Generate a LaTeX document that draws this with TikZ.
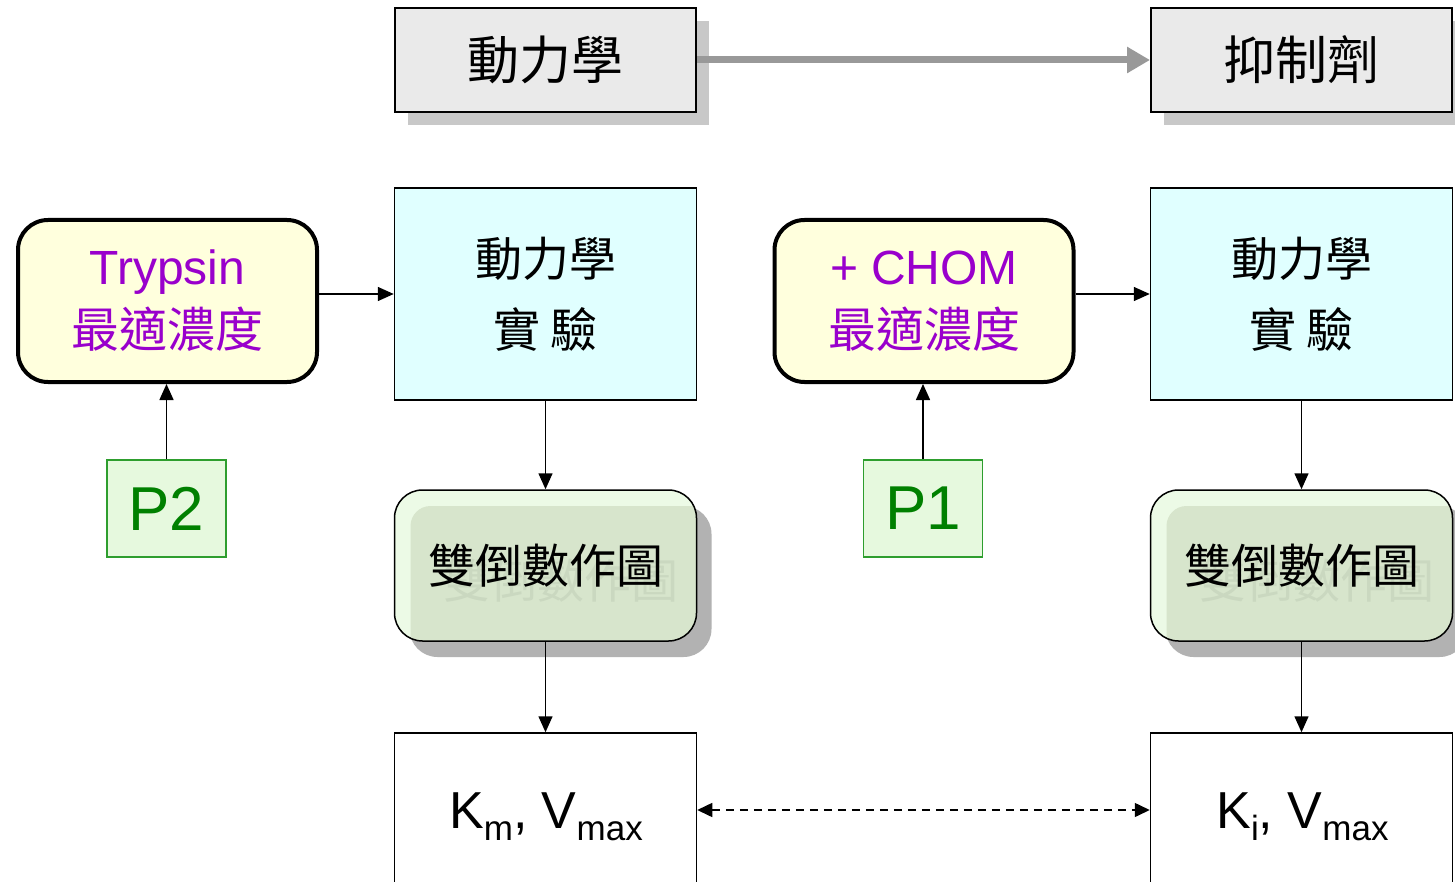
\documentclass[tikz,border=0pt]{standalone}
\usepackage{fontspec}
\setmainfont{Liberation Sans}
\newfontfamily\cjk{Noto Sans CJK TC}
\usetikzlibrary{arrows.meta,shadows}
\definecolor{topfill}{HTML}{EAEAEA}
\definecolor{topshadow}{HTML}{C8C8C8}
\definecolor{arrowgray}{HTML}{999999}
\definecolor{cyanfill}{HTML}{E0FFFF}
\definecolor{yelfill}{HTML}{FFFFDD}
\definecolor{purp}{HTML}{9900CC}
\definecolor{pfill}{HTML}{E6F9DE}
\definecolor{pborder}{HTML}{2E9E2E}
\definecolor{ptext}{HTML}{008000}
\definecolor{goutfill}{HTML}{ECFAE6}
\definecolor{ginfill}{HTML}{D7E5CC}
\definecolor{gshadow}{HTML}{B2B2B2}
\definecolor{ghost}{HTML}{CAD8C0}
\newcommand\lowsub[1]{\raisebox{-6pt}{\fontsize{17.5}{20}\selectfont #1}}
\begin{document}
\begin{tikzpicture}[x=0.5pt,y=-0.5pt,
  topbox/.style={draw, line width=1pt, fill=topfill, minimum width=150.5pt, minimum height=52pt,
    inner sep=0pt, font=\cjk\fontsize{26}{30}\selectfont,
    drop shadow={shadow xshift=6.5pt, shadow yshift=-6.5pt, opacity=1, fill=topshadow}},
  cyanbox/.style={draw, line width=0.75pt, fill=cyanfill, minimum width=151pt, minimum height=106pt,
    inner sep=0pt, align=center, font=\cjk\fontsize{23.5}{35.5}\selectfont},
  yelbox/.style={draw, line width=2pt, fill=yelfill, rounded corners=15pt, minimum width=149.5pt,
    minimum height=81pt, inner sep=0pt, align=center, text=purp, font=\fontsize{24}{31.5}\selectfont},
  pbox/.style={draw=pborder, line width=0.75pt, fill=pfill, minimum width=59.5pt, minimum height=48.5pt,
    inner sep=0pt, text=ptext, font=\fontsize{31}{36}\selectfont},
  gbox/.style={draw, line width=0.75pt, fill=goutfill, rounded corners=14pt, minimum width=151pt,
    minimum height=75.5pt, inner sep=0pt, font=\cjk\fontsize{23.5}{28}\selectfont,
    drop shadow={shadow xshift=7.5pt, shadow yshift=-8pt, opacity=1, fill=gshadow},
    path picture={
      \fill[ginfill, rounded corners=10pt] ([shift={(8pt,-8pt)}]path picture bounding box.north west)
        rectangle ([shift={(20pt,-20pt)}]path picture bounding box.south east);
      \node[text=ghost, font=\cjk\fontsize{23.5}{28}\selectfont]
        at ([shift={(7.5pt,-7.5pt)}]path picture bounding box.center) {雙倒數作圖};
    }},
  resbox/.style={draw, line width=0.75pt, fill=white, minimum width=151pt, minimum height=77pt, inner sep=0pt},
  restext/.style={inner sep=0pt, anchor=base, font=\fontsize{26}{30}\selectfont},
  conn/.style={line width=0.75pt, -{Triangle[length=8pt,width=7pt]}},
  dconn/.style={line width=0.75pt, dash pattern=on 4pt off 3pt, {Triangle[length=7.5pt,width=7pt]}-{Triangle[length=7.5pt,width=7pt]}},
  gconn/.style={line width=3.5pt, draw=arrowgray, -{Triangle[length=11.5pt,width=12.5pt]}}
]
\useasboundingbox (0,0) rectangle (1455,882);
\clip (0,0) rectangle (1455,882);
\fill[white] (0,0) rectangle (1455,882);

% top row
\node[topbox] (k1) at (545.5,60) {動力學};
\node[topbox] (k2) at (1301.5,60) {抑制劑};
\draw[gconn] (k1.east) -- (k2.west);

% left column set
\node[yelbox] (y1) at (167.5,301) {Trypsin\\{\cjk 最適濃度}};
\node[cyanbox] (c1) at (545.5,294) {動力學\\實 驗};
\node[pbox] (p2) at (166.5,508.5) {P2};
\node[gbox] (g1) at (545.5,565.5) {雙倒數作圖};
\node[resbox] (b1) at (545.5,810) {};
\node[restext] (b1t) at (546,828) {K\lowsub{m}, V\lowsub{max}};

% right column set
\node[yelbox] (y2) at (924,301) {+ CHOM\\{\cjk 最適濃度}};
\node[cyanbox] (c2) at (1301.5,294) {動力學\\實 驗};
\node[pbox] (p1) at (923,508.5) {P1};
\node[gbox] (g2) at (1301.5,565.5) {雙倒數作圖};
\node[resbox] (b2) at (1301.5,810) {};
\node[restext] (b2t) at (1302.5,828) {K\lowsub{i}, V\lowsub{max}};

% connectors
\draw[conn] (y1.east |- c1.west) -- (c1.west);
\draw[conn] (y2.east |- c2.west) -- (c2.west);
\draw[conn] (p2.north) -- (p2.north |- y1.south);
\draw[conn] (p1.north) -- (p1.north |- y2.south);
\draw[conn] (c1.south) -- (g1.north);
\draw[conn] (c2.south) -- (g2.north);
\draw[conn] (g1.south) -- (b1.north);
\draw[conn] (g2.south) -- (b2.north);
\draw[dconn] (b1.east) -- (b2.west);
\end{tikzpicture}
\end{document}
